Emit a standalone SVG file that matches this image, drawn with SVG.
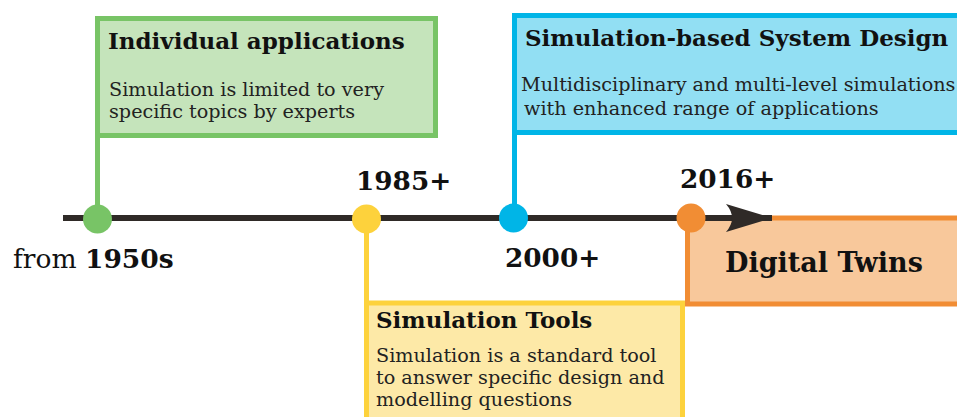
<svg xmlns="http://www.w3.org/2000/svg" width="957" height="417" viewBox="0 0 957 417">
  <style>
    .title { font-family: "DejaVu Serif", "Liberation Serif", serif; font-weight: bold; font-size: 23px; fill: #111; }
    .body { font-family: "DejaVu Serif", "Liberation Serif", serif; font-size: 19.2px; fill: #222; }
    .year { font-family: "DejaVu Serif", "Liberation Serif", serif; font-weight: bold; font-size: 26.3px; fill: #111; }
    .green { fill: #c5e4bb; stroke: #78c466; }
    .blue { fill: #92dff3; stroke: #00b5e7; }
    .yellow { fill: #fde9a7; stroke: #fdd23c; }
    .orange { fill: #f8c89b; stroke: #f18d34; }
    .box { stroke-width: 5; }
    .stem { fill: none; stroke-width: 5; }
  </style>
  <defs>
    <marker id="arrowhead" markerUnits="userSpaceOnUse" markerWidth="50" markerHeight="30" refX="46" refY="14" orient="auto" overflow="visible">
      <path d="M46 14 L0 0 Q12 14 0 28 Z" fill="#2f2a27"/>
    </marker>
  </defs>

  <!-- era boxes -->
  <g id="node-individual">
    <rect class="box green" x="97.5" y="18.5" width="338" height="117"/>
    <text class="title" x="108" y="49">Individual applications</text>
    <text class="body" x="109" y="96">Simulation is limited to very</text>
    <text class="body" x="109" y="118">specific topics by experts</text>
  </g>

  <g id="node-system-design">
    <rect class="box blue" x="514.5" y="15.5" width="460" height="117"/>
    <text class="title" x="525" y="46">Simulation-based System Design</text>
    <text class="body" x="521" y="91">Multidisciplinary and multi-level simulations</text>
    <text class="body" x="524" y="115">with enhanced range of applications</text>
  </g>

  <g id="node-digital-twins">
    <rect class="box orange" x="687.5" y="218" width="300" height="86"/>
    <text class="title" x="725" y="272" style="font-size:27px">Digital Twins</text>
  </g>

  <g id="node-tools">
    <rect class="box yellow" x="366.5" y="303" width="316" height="140"/>
    <text class="title" x="376" y="328">Simulation Tools</text>
    <text class="body" x="376" y="362">Simulation is a standard tool</text>
    <text class="body" x="376" y="384">to answer specific design and</text>
    <text class="body" x="376" y="406">modelling questions</text>
  </g>

  <!-- timeline and stems -->
  <g id="connectors">
    <line x1="63" y1="218" x2="772" y2="218" stroke="#2f2a27" stroke-width="6" marker-end="url(#arrowhead)"/>
    <line class="stem green" x1="97.5" y1="136" x2="97.5" y2="218"/>
    <line class="stem yellow" x1="366.5" y1="218" x2="366.5" y2="302"/>
    <line class="stem blue" x1="514.5" y1="133" x2="514.5" y2="218"/>
    <line class="stem orange" x1="687.5" y1="218" x2="687.5" y2="240"/>
    <circle cx="97.5" cy="219" r="14.5" fill="#78c466"/>
    <circle cx="366.5" cy="219" r="14.5" fill="#fdd23c"/>
    <circle cx="513.5" cy="218" r="14.5" fill="#00b5e7"/>
    <circle cx="691" cy="218" r="14.5" fill="#f18d34"/>
  </g>

  <!-- dates -->
  <g id="dates">
    <text x="13" y="268" style="font-family:'DejaVu Serif','Liberation Serif',serif;font-size:26.5px;fill:#111">from <tspan style="font-weight:bold">1950s</tspan></text>
    <text class="year" x="356" y="190">1985+</text>
    <text class="year" x="505" y="267">2000+</text>
    <text class="year" x="680" y="188">2016+</text>
  </g>
</svg>
